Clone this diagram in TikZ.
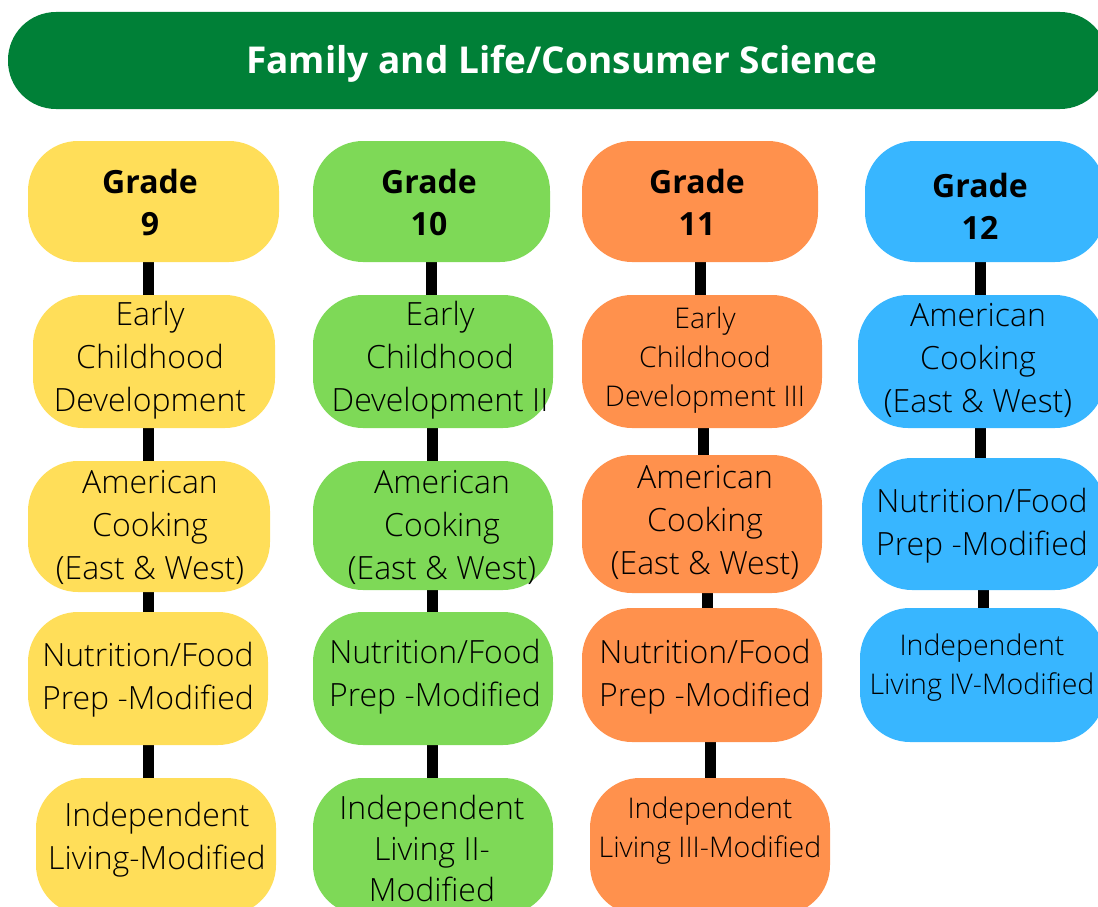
\documentclass[tikz,border=0pt]{standalone}
\usepackage{fontspec}
\setmainfont{Open Sans}
\newfontfamily\lightfont{Open Sans Light}
\usetikzlibrary{backgrounds}
\definecolor{titlegreen}{HTML}{008037}
\definecolor{cyellow}{HTML}{FFDE59}
\definecolor{cgreen}{HTML}{7ED957}
\definecolor{corange}{HTML}{FF914D}
\definecolor{cblue}{HTML}{38B6FF}
\tikzset{
  pill/.style={rounded corners=50pt, inner sep=0pt, draw=none},
  gradetxt/.style={align=center, inner sep=0pt, font=\bfseries\fontsize{32}{42}\selectfont},
  coursetxt/.style={align=center, inner sep=0pt, font=\lightfont\fontsize{32}{43}\selectfont},
  smalltxt/.style={align=center, inner sep=0pt, font=\lightfont\fontsize{28.5}{39}\selectfont},
  conn/.style={line width=11pt, black},
}
\begin{document}
\begin{tikzpicture}[x=1pt,y=-1pt]
\useasboundingbox (0,0) rectangle (1098,907);
\clip (0,0) rectangle (1098,907);
% title
\node[pill, fill=titlegreen, rounded corners=48pt, minimum width=1100pt, minimum height=97pt] (title) at (558,60.5) {};
\node[text=white, font=\bfseries\fontsize{37}{44}\selectfont] (titletxt) at (562,64) {Family and Life/Consumer Science};

% column 1
\node[pill, fill=cyellow, minimum width=251pt, minimum height=121pt] (g9) at (153.5,201.5) {};
\node[gradetxt] (g9t) at (150,202) {Grade\\9};
\node[pill, fill=cyellow, minimum width=242pt, minimum height=133pt] (e9) at (154,361.5) {};
\node[coursetxt] (e9t) at (150,360) {Early\\Childhood\\Development};
\node[pill, fill=cyellow, minimum width=242pt, minimum height=131pt] (a9) at (149,526.5) {};
\node[coursetxt] (a9t) at (150,527) {American\\Cooking\\(East \& West)};
\node[pill, fill=cyellow, minimum width=240pt, minimum height=133pt] (n9) at (148,678.5) {};
\node[coursetxt] (n9t) at (148,680) {Nutrition/Food\\Prep -Modified};
\node[pill, fill=cyellow, minimum width=240pt, minimum height=137pt] (i9) at (156,846.5) {};
\node[coursetxt] (i9t) at (157,840) {Independent\\Living-Modified};

% column 2
\node[pill, fill=cgreen, minimum width=237pt, minimum height=121pt] (g10) at (431.5,201.5) {};
\node[gradetxt] (g10t) at (429,202) {Grade\\10};
\node[pill, fill=cgreen, minimum width=240pt, minimum height=133pt] (e10) at (433,361.5) {};
\node[coursetxt] (e10t) at (440,360) {Early\\Childhood\\Development II};
\node[pill, fill=cgreen, minimum width=240pt, minimum height=129pt] (a10) at (433,525.5) {};
\node[coursetxt] (a10t) at (442,527) {American\\Cooking\\(East \& West)};
\node[pill, fill=cgreen, minimum width=240pt, minimum height=133pt] (n10) at (433,678.5) {};
\node[coursetxt] (n10t) at (435,677) {Nutrition/Food\\Prep -Modified};
\node[pill, fill=cgreen, minimum width=240pt, minimum height=137pt] (i10) at (433,846.5) {};
\node[coursetxt, font=\lightfont\fontsize{32}{41}\selectfont] (i10t) at (432,848) {Independent\\Living II-\\Modified};

% column 3
\node[pill, fill=corange, minimum width=236pt, minimum height=121pt] (g11) at (700,201.5) {};
\node[gradetxt] (g11t) at (697,202) {Grade\\11};
\node[pill, fill=corange, minimum width=240pt, minimum height=133pt] (e11) at (702,361.5) {};
\node[smalltxt] (e11t) at (705,360) {Early\\Childhood\\Development III};
\node[pill, fill=corange, minimum width=240pt, minimum height=138pt] (a11) at (702,524) {};
\node[coursetxt] (a11t) at (705,522) {American\\Cooking\\(East \& West)};
\node[pill, fill=corange, minimum width=240pt, minimum height=134pt] (n11) at (702,675) {};
\node[coursetxt] (n11t) at (705,677) {Nutrition/Food\\Prep -Modified};
\node[pill, fill=corange, minimum width=240pt, minimum height=137pt] (i11) at (710,846.5) {};
\node[smalltxt] (i11t) at (710,831) {Independent\\Living III-Modified};

% column 4
\node[pill, fill=cblue, minimum width=240pt, minimum height=121pt] (g12) at (985,201.5) {};
\node[gradetxt] (g12t) at (980,206) {Grade\\12};
\node[pill, fill=cblue, minimum width=247pt, minimum height=133pt] (a12) at (981.5,361.5) {};
\node[coursetxt] (a12t) at (978,360) {American\\Cooking\\(East \& West)};
\node[pill, fill=cblue, minimum width=243pt, minimum height=132pt] (n12) at (983.5,524) {};
\node[coursetxt] (n12t) at (982,526) {Nutrition/Food\\Prep -Modified};
\node[pill, fill=cblue, minimum width=245pt, minimum height=134pt] (iv12) at (982.5,675) {};
\node[smalltxt] (iv12t) at (982,668) {Independent\\Living IV-Modified};

\begin{scope}[on background layer]
\draw[conn] ([xshift=-5.5pt]g9.south) -- ([xshift=-5.5pt]g9.south |- e9.north);
\draw[conn] ([xshift=-6pt]e9.south) -- ([xshift=-6pt]e9.south |- a9.north);
\draw[conn] ([xshift=-1pt]a9.south) -- ([xshift=-1pt]a9.south |- n9.north);
\draw[conn] (n9.south) -- (n9.south |- i9.north);

\draw[conn] (g10.south) -- (g10.south |- e10.north);
\draw[conn] ([xshift=-1pt]e10.south) -- ([xshift=-1pt]e10.south |- a10.north);
\draw[conn] ([xshift=-1pt]a10.south) -- ([xshift=-1pt]a10.south |- n10.north);
\draw[conn] ([xshift=-1pt]n10.south) -- ([xshift=-1pt]n10.south |- i10.north);

\draw[conn] (g11.south) -- (g11.south |- e11.north);
\draw[conn] ([xshift=1pt]e11.south) -- ([xshift=1pt]e11.south |- a11.north);
\draw[conn] ([xshift=5pt]a11.south) -- ([xshift=5pt]a11.south |- n11.north);
\draw[conn] ([xshift=8pt]n11.south) -- ([xshift=8pt]n11.south |- i11.north);

\draw[conn] ([xshift=-5pt]g12.south) -- ([xshift=-5pt]g12.south |- a12.north);
\draw[conn] ([xshift=-1.5pt]a12.south) -- ([xshift=-1.5pt]a12.south |- n12.north);
\draw[conn] ([xshift=-0.5pt]n12.south) -- ([xshift=-0.5pt]n12.south |- iv12.north);
\end{scope}
\end{tikzpicture}
\end{document}
